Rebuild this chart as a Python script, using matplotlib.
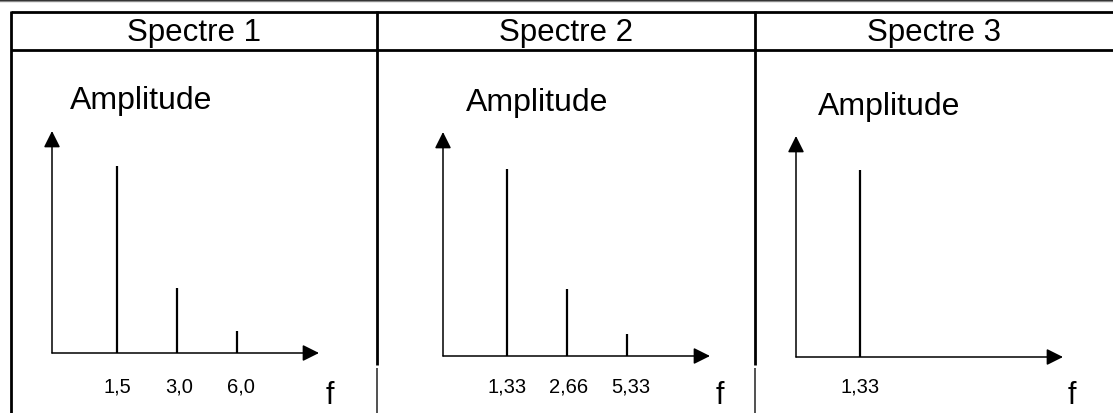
import matplotlib.pyplot as plt
from matplotlib.patches import FancyArrowPatch

plt.rcParams['font.family'] = ['Liberation Sans', 'DejaVu Sans']

W, H = 1113, 414

# spectrum data: line labels (frequencies) and relative amplitudes
titles = ["Spectre 1", "Spectre 2", "Spectre 3"]
freq1 = ["1,5", "3,0", "6,0"]
amp1 = [1.0, 0.35, 0.12]
freq2 = ["1,33", "2,66", "5,33"]
amp2 = [1.0, 0.36, 0.12]
freq3 = ["1,33"]
amp3 = [1.0]

# panel geometry in pixels: origin x, origin y, arrow tip x, arrow tip y
panels = [
    (52, 354, 319, 132),
    (443, 357, 710, 133),
    (796, 358, 1063, 137),
]
line_x0 = [117, 507, 860]   # pixel x of first spectral line
line_step = 60              # pixel gap between lines
amp_px = 187                # pixels for amplitude 1.0
amplitude_xy = [(70, 101), (466, 103), (818, 107)]
f_x = [330, 720, 1072]

fig = plt.figure(figsize=(W / 100, H / 100), dpi=100)
bg = fig.add_axes([0, 0, 1, 1])
bg.set_xlim(0, W)
bg.set_ylim(H, 0)
bg.axis("off")

# top double rule
bg.plot([0, W], [0.6, 0.6], color="#222222", lw=1.0)
bg.plot([0, W], [2.4, 2.4], color="#888888", lw=1.0)

# table grid
tk = 2.0
bg.plot([11, W], [13, 13], color="black", lw=tk, solid_capstyle="butt")
bg.plot([11, W], [51, 51], color="black", lw=tk, solid_capstyle="butt")
bg.plot([11, 11], [12, H], color="black", lw=tk, solid_capstyle="butt")
for sx in [377, 755]:
    bg.plot([sx, sx], [12, 366], color="black", lw=tk, solid_capstyle="butt")
    bg.plot([sx - 0.5, sx - 0.5], [369, H], color="#222222", lw=1.1, solid_capstyle="butt")

# header titles
centers = [194, 566, 934]
for cx, t in zip(centers, titles):
    bg.text(cx, 33, t, fontsize=22.5, ha="center", va="center")

freqs = [freq1, freq2, freq3]
amps = [amp1, amp2, amp3]

for i, (ox, oy, tx, ty) in enumerate(panels):
    ax = fig.add_axes([ox / W, 1 - oy / H, (tx - ox) / W, (oy - ty) / H])
    ax.axis("off")
    # line k (1-based) sits at pixel line_x0 + (k-1)*line_step
    ax.set_xlim(1 - (line_x0[i] - ox) / line_step, 1 + (tx - line_x0[i]) / line_step)
    ax.set_ylim(0, (oy - ty) / amp_px)

    # axes arrows
    arrow_kw = dict(arrowstyle="-|>,head_length=1.0,head_width=0.5", mutation_scale=10,
                    color="black", lw=1.1, transform=ax.transAxes, clip_on=False,
                    shrinkA=0, shrinkB=0)
    ax.add_patch(FancyArrowPatch((0, 0), (1, 0), **arrow_kw))
    ax.add_patch(FancyArrowPatch((0, 0), (0, 1), **arrow_kw))

    pos = list(range(1, len(amps[i]) + 1))
    ax.vlines(pos, 0, amps[i], color="black", lw=1.6)

    for p, lab in zip(pos, freqs[i]):
        ax.text(p + 0.03 * (p - 1), -(387 - oy) / amp_px, lab, fontsize=14.5,
                ha="center", va="center")

    ax_x, ax_y = amplitude_xy[i]
    bg.text(ax_x, ax_y, "Amplitude", fontsize=23, ha="left", va="center")
    bg.text(f_x[i], 396, "f", fontsize=22, ha="center", va="center")

fig.savefig("out.png", dpi=100, facecolor="white")
